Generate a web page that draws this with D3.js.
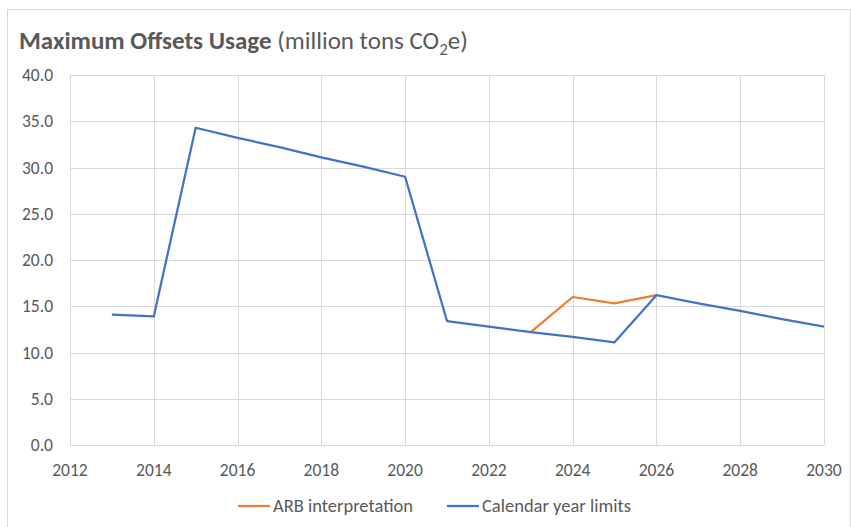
<!DOCTYPE html>
<html>
<head>
<meta charset="utf-8">
<script src="https://cdn.jsdelivr.net/npm/d3@7"></script>
<style>
  body { margin: 0; background: #fff; }
  svg { font-family: Carlito, Lato, "Open Sans", sans-serif; }
</style>
</head>
<body>
<script>
// data
const calendarYears = [2013, 2014, 2015, 2016, 2017, 2018, 2019, 2020, 2021, 2022, 2023, 2024, 2025, 2026, 2027, 2028, 2029, 2030];
const calendarLimits = [14.1, 13.9, 34.3, 33.2, 32.2, 31.1, 30.1, 29.0, 13.4, 12.8, 12.2, 11.7, 11.1, 16.2, 15.3, 14.5, 13.6, 12.8];
const arbYears = [2023, 2024, 2025, 2026];
const arbValues = [12.2, 16.0, 15.3, 16.2];
const xTicks = [2012, 2014, 2016, 2018, 2020, 2022, 2024, 2026, 2028, 2030];
const yTicks = [0, 5, 10, 15, 20, 25, 30, 35, 40];

const W = 851, H = 527;
const m = {left: 70, right: 27, top: 75, bottom: 82};

const svg = d3.select('body').append('svg')
  .attr('width', W).attr('height', H);

// chart frame
svg.append('rect')
  .attr('x', 7.5).attr('y', 9.5)
  .attr('width', W - 8).attr('height', H)
  .attr('fill', '#fff').attr('stroke', '#d9d9d9');

const x = d3.scaleLinear().domain([2012, 2030]).range([m.left, W - m.right]);
const y = d3.scaleLinear().domain([0, 40]).range([H - m.bottom, m.top]);

// gridlines
const grid = svg.append('g');
grid.selectAll('.hg').data(yTicks).join('line')
  .attr('x1', m.left).attr('x2', W - m.right)
  .attr('y1', d => Math.round(y(d)) + 0.5).attr('y2', d => Math.round(y(d)) + 0.5)
  .attr('stroke', '#d9d9d9');
grid.selectAll('.vg').data(xTicks).join('line')
  .attr('x1', d => Math.round(x(d)) + 0.5).attr('x2', d => Math.round(x(d)) + 0.5)
  .attr('y1', m.top).attr('y2', H - m.bottom)
  .attr('stroke', '#d9d9d9');

// tick labels
svg.append('g').selectAll('text').data(yTicks).join('text')
  .attr('x', m.left - 17).attr('y', d => y(d) + 6)
  .attr('text-anchor', 'end')
  .attr('font-size', 17.5).attr('fill', '#595959')
  .text(d => d3.format('.1f')(d));

svg.append('g').selectAll('text').data(xTicks).join('text')
  .attr('x', d => x(d)).attr('y', H - m.bottom + 31)
  .attr('text-anchor', 'middle')
  .attr('font-size', 17.5).attr('fill', '#595959')
  .text(d => d);

// lines
const line = d3.line().x(d => x(d[0])).y(d => y(d[1]));

svg.append('path')
  .datum(d3.zip(arbYears, arbValues))
  .attr('d', line)
  .attr('fill', 'none').attr('stroke', '#ED7D31').attr('stroke-width', 2.25)
  .attr('stroke-linejoin', 'round');

svg.append('path')
  .datum(d3.zip(calendarYears, calendarLimits))
  .attr('d', line)
  .attr('fill', 'none').attr('stroke', '#4472C4').attr('stroke-width', 2.25)
  .attr('stroke-linejoin', 'round');

// title
const title = svg.append('text')
  .attr('x', 19).attr('y', 49)
  .attr('font-size', 25).attr('fill', '#595959');
title.append('tspan').attr('font-weight', 'bold').text('Maximum Offsets Usage');
title.append('tspan').text(' (million tons CO');
title.append('tspan').attr('font-size', 17).attr('dy', 6).text('2');
title.append('tspan').attr('dy', -6).text('e)');

// legend
const legend = [
  {name: 'ARB interpretation', color: '#ED7D31', x: 238},
  {name: 'Calendar year limits', color: '#4472C4', x: 447}
];
const lg = svg.append('g').selectAll('g').data(legend).join('g')
  .attr('transform', d => `translate(${d.x},506)`);
lg.append('line').attr('x1', 0).attr('x2', 32)
  .attr('stroke', d => d.color).attr('stroke-width', 2.25);
lg.append('text').attr('x', 35).attr('y', 6)
  .attr('font-size', 18.5).attr('fill', '#595959')
  .text(d => d.name);
</script>
</body>
</html>
